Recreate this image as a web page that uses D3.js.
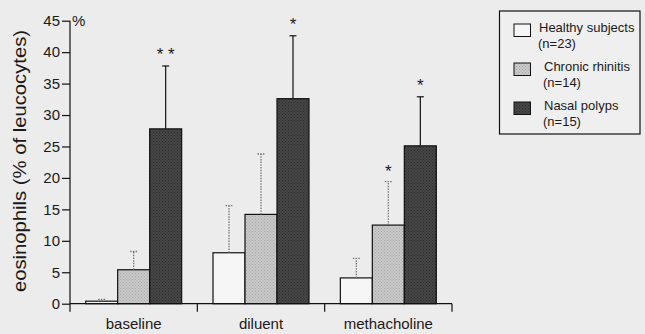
<!DOCTYPE html>
<html lang="en">
<head>
    <meta charset="UTF-8">
    <title>Eosinophils in nasal lavage</title>
    <script src="https://d3js.org/d3.v7.min.js"></script>
    <style>
        body { margin: 0; background: #ececec; }
        svg { display: block; font-family: "Liberation Sans", Arial, Helvetica, sans-serif; }
        .axis text { font-size: 15px; fill: #1a1a1a; }
        .axis line, .axis path { stroke: #111; stroke-width: 1.2; }
        .legend text { font-size: 13px; fill: #1a1a1a; }
    </style>
</head>
<body>
    <div id="chart"></div>
    <script>
        // values (mean and SD, % of leucocytes)
        const categories = ["baseline", "diluent", "methacholine"];
        const series = ["healthy", "chronic", "nasal"];
        const healthy = [0.4, 8.1, 4.1];
        const healthySD = [0.3, 7.5, 3.1];
        const chronic = [5.4, 14.2, 12.5];
        const chronicSD = [2.9, 9.6, 6.9];
        const nasal = [27.8, 32.6, 25.1];
        const nasalSD = [10.0, 10.0, 7.8];
        const chronicStars = ["", "", "*"];
        const nasalStars = ["* *", "*", "*"];
        const legendLabels = [["Healthy subjects", "(n=23)"], ["Chronic rhinitis", "(n=14)"], ["Nasal polyps", "(n=15)"]];
        const yTicks = [0, 5, 10, 15, 20, 25, 30, 35, 40, 45];

        const width = 645, height = 334;
        const plot = { left: 70, right: 452, top: 20.7, bottom: 303.7 };

        const svg = d3.select("#chart").append("svg")
            .attr("width", width)
            .attr("height", height);

        // stipple patterns to mimic the printed screen tones
        const defs = svg.append("defs");
        function stipple(id, base, dot) {
            const p = defs.append("pattern")
                .attr("id", id)
                .attr("width", 3).attr("height", 3)
                .attr("patternUnits", "userSpaceOnUse");
            p.append("rect").attr("width", 3).attr("height", 3).attr("fill", base);
            p.append("rect").attr("x", 0).attr("y", 0).attr("width", 1).attr("height", 1).attr("fill", dot);
            p.append("rect").attr("x", 1.5).attr("y", 1.5).attr("width", 1).attr("height", 1).attr("fill", dot);
        }
        stipple("dotsLight", "#c9c9c9", "#a9a9a9");
        stipple("dotsDark", "#464646", "#2c2c2c");

        const fills = { healthy: "#f6f6f6", chronic: "url(#dotsLight)", nasal: "url(#dotsDark)" };
        const means = { healthy: healthy, chronic: chronic, nasal: nasal };
        const sds = { healthy: healthySD, chronic: chronicSD, nasal: nasalSD };

        const x = d3.scaleBand().domain(categories).range([plot.left, plot.right]).padding(0);
        const xSub = d3.scaleBand().domain(series).range([0, x.bandwidth()])
            .paddingInner(0).paddingOuter(0.49);
        const y = d3.scaleLinear().domain([0, 45]).range([plot.bottom, plot.top]);

        const rows = [];
        categories.forEach((c, i) => {
            series.forEach(s => rows.push({ cat: c, s: s, v: means[s][i], sd: sds[s][i] }));
        });

        // bars
        svg.append("g").selectAll("rect")
            .data(rows)
            .enter().append("rect")
            .attr("x", d => x(d.cat) + xSub(d.s))
            .attr("y", d => y(d.v))
            .attr("width", xSub.bandwidth())
            .attr("height", d => y(0) - y(d.v))
            .attr("fill", d => fills[d.s])
            .attr("stroke", "#111")
            .attr("stroke-width", 1.2);

        // error bars: dotted grey for healthy/chronic, solid black for polyps
        const err = svg.append("g");
        rows.forEach(d => {
            const cx = x(d.cat) + xSub(d.s) + xSub.bandwidth() / 2;
            const solid = d.s === "nasal";
            const g = err.append("g")
                .attr("stroke", solid ? "#111" : "#777")
                .attr("stroke-width", solid ? 1.2 : 1.3)
                .attr("stroke-dasharray", solid ? null : "1.5,1.2");
            g.append("line")
                .attr("x1", cx).attr("x2", cx)
                .attr("y1", y(d.v)).attr("y2", y(d.v + d.sd));
            g.append("line")
                .attr("x1", cx - 3.5).attr("x2", cx + 3.5)
                .attr("y1", y(d.v + d.sd)).attr("y2", y(d.v + d.sd));
        });

        // significance stars
        function stars(arr, s, gapAbove) {
            arr.forEach((t, i) => {
                if (!t) return;
                const cx = x(categories[i]) + xSub(s) + xSub.bandwidth() / 2;
                svg.append("text")
                    .attr("x", cx)
                    .attr("y", y(means[s][i] + sds[s][i]) - gapAbove)
                    .attr("text-anchor", "middle")
                    .attr("font-size", 17)
                    .attr("fill", "#1a1a1a")
                    .attr("xml:space", "preserve")
                    .text(t);
            });
        }
        stars(chronicStars, "chronic", 5);
        stars(nasalStars, "nasal", 6);

        // y axis
        const yAxis = svg.append("g")
            .attr("class", "axis")
            .attr("transform", "translate(" + plot.left + ",0)")
            .call(d3.axisLeft(y).tickValues(yTicks).tickSize(8).tickSizeOuter(0).tickPadding(2));
        yAxis.select(".domain").remove();
        yAxis.append("line")
            .attr("x1", 0).attr("x2", 0)
            .attr("y1", y(45)).attr("y2", y(0) + 8);
        yAxis.append("text")
            .attr("x", 2).attr("y", y(45) + 5)
            .attr("fill", "#1a1a1a")
            .attr("text-anchor", "start")
            .text("%");

        // x axis
        const xAxis = svg.append("g")
            .attr("class", "axis")
            .attr("transform", "translate(0," + plot.bottom + ")");
        xAxis.append("line").attr("x1", plot.left).attr("x2", plot.right).attr("y1", 0).attr("y2", 0);
        xAxis.selectAll(".sep")
            .data(categories)
            .enter().append("line")
            .attr("x1", d => x(d) + x.bandwidth()).attr("x2", d => x(d) + x.bandwidth())
            .attr("y1", 0).attr("y2", 8);
        xAxis.selectAll(".lab")
            .data(categories)
            .enter().append("text")
            .attr("x", d => x(d) + x.bandwidth() / 2)
            .attr("y", 25)
            .attr("text-anchor", "middle")
            .text(d => d);

        // y label
        svg.append("text")
            .attr("transform", "translate(26,161) rotate(-90)")
            .attr("text-anchor", "middle")
            .attr("font-size", 17.5)
            .attr("fill", "#1a1a1a")
            .attr("textLength", 262)
            .attr("lengthAdjust", "spacingAndGlyphs")
            .text("eosinophils (% of leucocytes)");

        // legend
        const legend = svg.append("g").attr("class", "legend");
        legend.append("rect")
            .attr("x", 499.5).attr("y", 11)
            .attr("width", 140.5).attr("height", 123)
            .attr("fill", "#efefef")
            .attr("stroke", "#111")
            .attr("stroke-width", 1.2);
        const rowY = [24, 63, 102];
        const textX = [539, 544, 544];
        series.forEach((s, i) => {
            legend.append("rect")
                .attr("x", 514).attr("y", rowY[i])
                .attr("width", 16.5).attr("height", 12.5)
                .attr("fill", fills[s])
                .attr("stroke", "#111")
                .attr("stroke-width", 1);
            legend.append("text").attr("x", textX[i]).attr("y", rowY[i] + 7.7).text(legendLabels[i][0]);
            legend.append("text").attr("x", textX[i] - 1).attr("y", rowY[i] + 24).text(legendLabels[i][1]);
        });
    </script>
</body>
</html>
